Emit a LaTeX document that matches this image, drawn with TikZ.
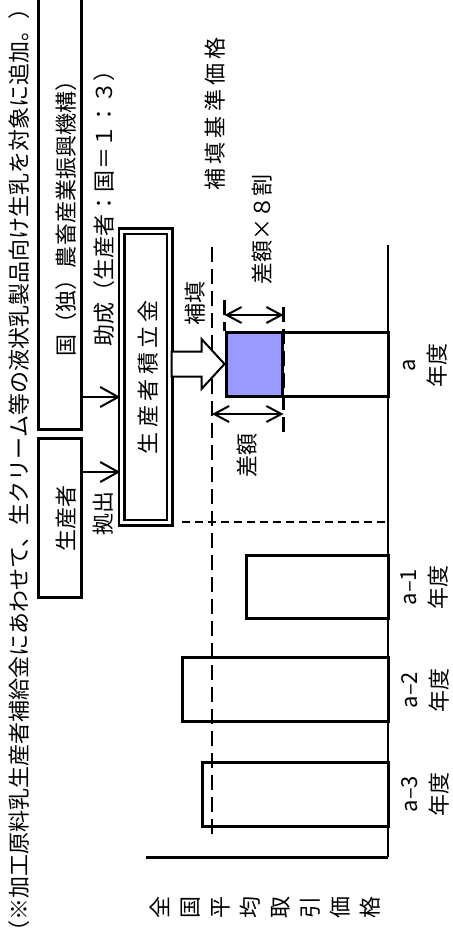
\documentclass[tikz,border=0pt]{standalone}
\usepackage{fontspec}
\setmainfont{Noto Sans CJK JP}
\newfontfamily\widejp[LetterSpace=20]{Noto Sans CJK JP}
\usetikzlibrary{arrows.meta}
\definecolor{gapblue}{HTML}{9999FF}

\begin{document}
\begin{tikzpicture}[x=0.5pt, y=-0.5pt,
    txt/.style={rotate=90, inner sep=0pt, font=\fontsize{11}{15}\selectfont},
    box/.style={draw, line width=1.5pt, inner sep=0pt},
    bar/.style={draw, line width=1.5pt},
    feed/.style={-{Straight Barb[length=9pt, width=10pt]}, line width=1pt},
    span/.style={{Straight Barb[length=7.5pt, width=8pt]}-{Straight Barb[length=7.5pt, width=8pt]}, line width=1pt},
    refline/.style={line width=1.2pt, dash pattern=on 7.5pt off 3.5pt}]
  \useasboundingbox (0,0) rectangle (452,935);

  \node[txt] (note) at (19,470) {（※加工原料乳生産者補給金にあわせて、生クリーム等の液状乳製品向け生乳を対象に追加。）};

  % boxes on the left
  \node[box, minimum width=21.5pt, minimum height=216pt] (govBox) at (59.5,213) {};
  \node[box, minimum width=21.5pt, minimum height=79.5pt] (prodBox) at (59.5,517.5) {};
  \node[box, double, line width=1.25pt, double distance=1.5pt, minimum width=24pt, minimum height=145.5pt] (fundBox) at (145.5,377) {};
  \node[txt] (govText) at (66,213) {国（独）農畜産業振興機構）};
  \node[txt] (prodText) at (66,518) {生産者};
  \node[txt, font=\widejp\fontsize{11}{15}\selectfont] (fundText) at (148.5,377) {生産者積立金};
  \node[txt] (payText) at (103,513) {拠出};
  \node[txt] (aidText) at (104,203) {助成（生産者：国＝１：３）};

  \draw[feed] (govBox.east |- 0,397) -- (fundBox.west |- 0,397);
  \draw[feed] (prodBox.east |- 0,472) -- (fundBox.west |- 0,472);

  % price chart
  \coordinate (refTop) at (212,247);
  \coordinate (refBot) at (212,840);
  \draw[refline] (refTop) -- (refBot);
  \draw[line width=0.8pt, dash pattern=on 4pt off 2.5pt] (182,522) -- (388,522);

  \draw[bar] (202,762) rectangle (388,826);
  \draw[bar] (182,657) rectangle (388,721);
  \draw[bar] (246,555) rectangle (388,618);
  \draw[bar] (282,332) rectangle (388,396);
  \node[bar, fill=gapblue, inner sep=0pt, minimum width=28pt, minimum height=32pt] (gapBox) at (254,364) {};

  \draw[line width=1.5pt] (146,857) -- (388,857);
  \draw[line width=1.2pt] (388,857) -- (388,245);

  \draw[line width=1pt, fill=white] (gapBox.west) -- ++(-23,-25) -- ++(0,12.5) -- ++(-30,0) -- ++(0,25) -- ++(30,0) -- ++(0,12.5) -- cycle;

  \draw[refline] (gapBox.west |- 0,300) -- (gapBox.north west);
  \draw[refline] (gapBox.east |- 0,307) -- (gapBox.east |- 0,437);
  \draw[span] (gapBox.west |- 0,315) -- (gapBox.east |- 0,315);
  \draw[span] (refTop |- 0,414) -- (gapBox.east |- 0,414);

  \node[txt] (fillText) at (195,303) {補填};
  \node[txt, font=\widejp\fontsize{11}{15}\selectfont] (baseText) at (215,114) {補填基準価格};
  \node[txt] (partText) at (262,230) {差額×８割};
  \node[txt] (gapText) at (247,455) {差額};

  \node[txt, align=center] (yearA) at (425,365) {a\\年度};
  \node[txt, align=center] (yearA1) at (425,587) {a–1\\年度};
  \node[txt, align=center] (yearA2) at (425,690) {a–2\\年度};
  \node[txt, align=center] (yearA3) at (425,794) {a–3\\年度};

  \node[txt, align=center] (axisText) at (265,907) {全\\国\\平\\均\\取\\引\\価\\格};
\end{tikzpicture}
\end{document}
